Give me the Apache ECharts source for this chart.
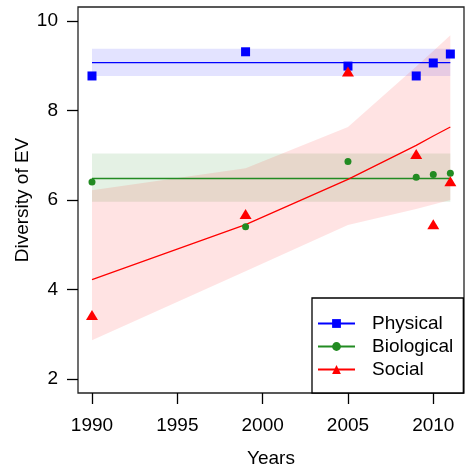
<!DOCTYPE html>
<html>
<head>
<meta charset="utf-8">
<script src="https://cdn.jsdelivr.net/npm/echarts@6/dist/echarts.min.js"></script>
<style>
  html, body { margin: 0; padding: 0; background: #fff; }
  #chart { width: 465px; height: 471px; }
</style>
</head>
<body>
<div id="chart"></div>
<script>
  // survey years
  const years = [1990, 1999, 2005, 2009, 2010, 2011];
  // observed diversity
  const physical = [8.77, 9.31, 8.99, 8.77, 9.06, 9.26];
  const biological = [6.40, 5.40, 6.86, 6.51, 6.57, 6.60];
  const social = [3.43, 5.69, 8.87, 7.03, 5.46, 6.42];
  // fitted means and confidence bands
  const physicalMean = 9.07, physicalLo = 8.77, physicalHi = 9.38;
  const biologicalMean = 6.48, biologicalLo = 5.96, biologicalHi = 7.04;
  const socialFit = [4.22, 5.45, 6.46, 7.22, 7.43, 7.63];
  const socialLo = [2.87, 4.41, 5.44, 5.80, 5.90, 6.00];
  const socialHi = [6.22, 6.71, 7.63, 8.98, 9.33, 9.68];
  const xTicks = [1990, 1995, 2000, 2005, 2010];
  const yTicks = [2, 4, 6, 8, 10];

  const font = 'Liberation Sans, Arial, sans-serif';
  const first = years[0], last = years[years.length - 1];

  // band polygon drawn through the axes' own scales
  function band(name, xs, lo, hi, fill) {
    const pts = xs.map((x, i) => [x, lo[i], hi[i]]);
    return {
      type: 'custom', name: name, data: pts, silent: true, z: 1,
      encode: { x: 0, y: [1, 2] },
      renderItem: function (params, api) {
        if (params.dataIndex !== 0) return;
        const top = pts.map(p => api.coord([p[0], p[2]]));
        const bot = pts.map(p => api.coord([p[0], p[1]])).reverse();
        return { type: 'polygon', shape: { points: top.concat(bot) }, style: { fill: fill } };
      }
    };
  }

  function pairs(ys) { return years.map((x, i) => [x, ys[i]]); }

  const chart = echarts.init(document.getElementById('chart'));
  chart.setOption({
    animation: false,
    grid: {
      left: 78, right: 1, top: 7, bottom: 78, outerBoundsMode: 'none',
      show: true, borderColor: '#222', borderWidth: 1.3
    },
    xAxis: {
      type: 'value', min: 1989.18, max: 2011.8,
      name: 'Years', nameLocation: 'middle', nameGap: 56, nameMoveOverlap: false,
      nameTextStyle: { fontFamily: font, fontSize: 19, color: '#000' },
      axisLine: { show: false }, splitLine: { show: false },
      axisTick: { show: true, length: 11, customValues: xTicks, lineStyle: { color: '#000', width: 1.3 } },
      axisLabel: {
        customValues: xTicks, margin: 23, fontFamily: font, fontSize: 19, color: '#000',
        formatter: v => String(v)
      }
    },
    yAxis: {
      type: 'value', min: 1.69, max: 10.31,
      name: 'Diversity of EV', nameLocation: 'middle', nameGap: 46, nameMoveOverlap: false,
      nameTextStyle: { fontFamily: font, fontSize: 19, color: '#000' },
      axisLine: { show: false }, splitLine: { show: false },
      axisTick: { show: true, length: 11, customValues: yTicks, lineStyle: { color: '#000', width: 1.3 } },
      axisLabel: { customValues: yTicks, margin: 20, fontFamily: font, fontSize: 19, color: '#000' }
    },
    legend: {
      data: ['Physical', 'Biological', 'Social'],
      orient: 'vertical', left: 312, top: 298,
      padding: [16, 10, 14, 5],
      itemWidth: 37, itemHeight: 11, itemGap: 4,
      borderColor: '#000', borderWidth: 1.3, backgroundColor: '#fff',
      textStyle: { fontFamily: font, fontSize: 19, color: '#000', padding: [0, 0, 0, 12] }
    },
    series: [
      band('Physical band', [first, last], [physicalLo, physicalLo], [physicalHi, physicalHi], 'rgba(0,0,255,0.11)'),
      band('Biological band', [first, last], [biologicalLo, biologicalLo], [biologicalHi, biologicalHi], 'rgba(34,139,34,0.12)'),
      band('Social band', years, socialLo, socialHi, 'rgba(255,0,0,0.11)'),
      {
        type: 'line', name: 'Physical', z: 3, showSymbol: false, symbol: 'rect',
        data: [[first, physicalMean], [last, physicalMean]],
        itemStyle: { color: '#0000ff' }, lineStyle: { color: '#0000ff', width: 1.3 }
      },
      {
        type: 'line', name: 'Biological', z: 3, showSymbol: false, symbol: 'circle',
        data: [[first, biologicalMean], [last, biologicalMean]],
        itemStyle: { color: '#228B22' }, lineStyle: { color: '#228B22', width: 1.3 }
      },
      {
        type: 'line', name: 'Social', z: 3, showSymbol: false, symbol: 'triangle',
        data: pairs(socialFit),
        itemStyle: { color: '#ff0000' }, lineStyle: { color: '#ff0000', width: 1.3 }
      },
      {
        type: 'scatter', name: 'Physical', z: 4, symbol: 'rect', symbolSize: 9,
        data: pairs(physical), itemStyle: { color: '#0000ff', opacity: 1 }
      },
      {
        type: 'scatter', name: 'Biological', z: 4, symbol: 'circle', symbolSize: 7,
        data: pairs(biological), itemStyle: { color: '#228B22', opacity: 1 }
      },
      {
        type: 'scatter', name: 'Social', z: 4, symbol: 'triangle', symbolSize: [12, 10],
        data: pairs(social), itemStyle: { color: '#ff0000', opacity: 1 }
      }
    ]
  });
</script>
</body>
</html>
